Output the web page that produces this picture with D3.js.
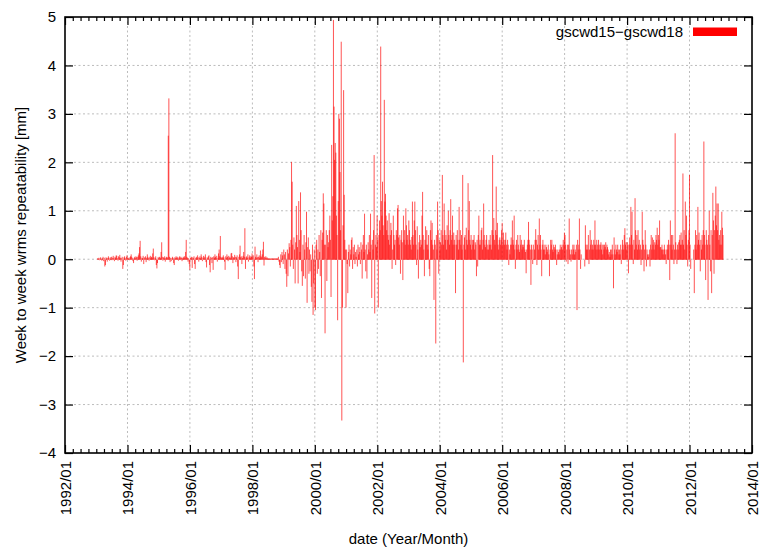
<!DOCTYPE html>
<html>
<head>
<meta charset="utf-8">
<script src="https://cdn.jsdelivr.net/npm/d3@7"></script>
<style>
  html, body { margin: 0; padding: 0; background: #fff; }
  svg { display: block; font-family: "Liberation Sans", Arial, Helvetica, sans-serif; }
</style>
</head>
<body>
<svg id="chart" width="759" height="548"></svg>
<script>
// Weekly difference of wrms repeatability between two solutions (mm)
const seriesName = "gscwd15\u2212gscwd18";
const firstWeek = "1993-01-17";
const wrmsDiff = [
  // 1993
  0.02,0.01,0.03,-0.02,0.02,0.04,0.01,-0.03,0.02,0.05,-0.04,0.03,-0.15,-0.12,0.04,0.02,-0.05,0.03,0.06,0.02,
  -0.03,0.04,0.01,0.05,-0.02,0.03,0.07,0.02,-0.04,0.05,0.03,0.08,0.07,0.02,-0.03,0.06,0.04,0.09,0.03,-0.05,
  0.02,0.05,-0.2,-0.12,0.04,0.06,0.02,-0.03,0.05,0.08,0.03,0.01,
  // 1994
  0.03,-0.02,0.04,0.06,0.1,0.05,0.02,-0.04,-0.08,0.03,0.05,0.02,0.06,0.04,-0.03,0.05,0.08,0.12,0.25,0.38,
  0.06,-0.05,0.03,0.02,0.07,-0.1,0.04,0.02,0.06,-0.06,0.03,0.1,0.05,0.02,-0.03,0.04,0.07,0.02,0.05,0.03,
  0.12,0.22,0.04,-0.02,0.03,0.06,-0.12,-0.19,-0.08,0.04,0.02,0.05,
  // 1995
  0.04,0.02,0.15,0.35,0.05,-0.03,0.04,0.02,0.06,-0.05,0.03,0.05,0.02,0.04,2.55,3.32,0.05,-0.06,0.03,-0.04,
  0.02,0.05,0.03,-0.08,-0.12,0.04,0.02,0.06,0.03,0.05,0.02,-0.03,0.04,0.06,0.02,0.05,0.03,-0.04,0.02,0.05,
  0.03,0.06,0.02,0.15,0.4,0.05,0.03,-0.05,0.02,-0.1,-0.22,0.03,
  // 1996
  0.03,0.05,-0.18,0.04,0.02,0.06,-0.1,-0.2,0.03,0.05,0.02,0.08,0.04,-0.05,0.03,0.06,0.02,0.1,0.05,-0.04,
  0.03,0.07,0.02,0.05,0.1,-0.06,-0.17,0.04,0.02,0.06,0.08,-0.12,-0.27,0.05,0.03,-0.08,0.04,-0.22,0.06,0.03,
  0.1,0.05,0.02,0.07,-0.05,0.03,0.12,0.2,0.06,0.48,0.04,0.02,
  // 1997
  0.05,0.03,0.08,0.04,-0.05,-0.22,0.06,0.03,0.1,0.05,-0.04,0.07,0.03,0.05,0.02,0.12,0.13,0.06,-0.08,0.04,
  0.03,0.09,0.05,-0.06,0.04,0.08,-0.15,-0.41,0.05,0.1,0.28,0.04,0.06,-0.1,0.03,0.07,0.15,0.05,0.64,-0.2,
  0.04,0.06,0.03,0.1,-0.05,0.04,0.08,0.03,0.06,0.05,0.12,0.04,
  // 1998
  0.08,-0.15,-0.41,0.26,0.05,0.03,0.1,0.04,-0.06,0.05,0.08,0.03,0.18,0.06,0.04,0.1,0.2,0.36,-0.13,0.05,
  0.03,0.06,0.02,0.04,0.02,0.01,0.02,0.01,0.02,0.01,0.01,0.02,0.01,0.02,0.01,0.01,0.02,0.01,0.02,0.01,
  0.02,0.01,0.05,-0.05,-0.12,-0.18,0.1,-0.06,0.15,0.08,-0.1,0.2,
  // 1999
  0.1,-0.2,0.15,-0.3,-0.57,0.2,-0.35,0.12,0.33,0.25,-0.15,0.4,2.01,1.6,0.3,-0.2,0.45,0.2,-0.5,0.35,
  1.1,0.5,0.25,-0.5,1.2,0.4,0.15,1.38,0.6,-0.25,-0.55,0.3,-0.35,0.5,0.2,-0.4,0.35,0.98,-0.9,0.25,
  0.45,-0.3,0.2,-0.25,0.1,-0.57,-0.88,0.3,-1.15,-0.5,0.2,-1.0,
  // 2000
  -1.05,0.3,0.4,-0.3,0.2,-0.2,0.5,0.15,-0.35,0.6,-0.8,0.4,0.55,1.36,1.15,0.3,-1.53,0.3,0.6,-0.45,
  0.5,0.25,0.35,0.6,0.9,0.4,-0.78,2.36,0.8,1.3,4.94,3.15,2.05,2.4,2.2,0.9,0.5,-1.26,1.2,3.0,
  2.9,1.8,0.6,4.49,-3.33,-1.0,0.7,3.49,1.33,0.4,0.2,-1.0,
  // 2001
  0.2,-0.1,-0.7,0.15,0.3,-0.15,0.2,0.1,0.4,0.45,-0.2,0.25,0.1,0.3,-0.1,0.15,0.05,0.2,-0.15,0.3,
  0.1,0.25,0.15,-0.1,0.35,0.2,-0.4,0.3,0.5,0.15,0.94,0.2,-0.25,0.3,-0.4,0.1,0.35,0.2,0.5,0.15,
  0.94,0.3,-0.8,0.4,0.2,0.6,2.15,-1.12,0.3,0.5,0.25,0.9,0.4,
  // 2002
  -1.0,0.5,0.8,0.6,4.39,1.2,0.9,1.6,0.7,0.5,3.29,1.19,1.35,0.9,0.6,0.8,0.5,0.4,0.95,0.3,
  0.5,0.75,0.6,-0.2,0.2,0.9,0.5,0.3,0.4,-0.12,0.6,0.5,1.05,1.12,0.45,0.3,0.5,-0.3,0.4,0.6,
  0.35,-0.43,0.9,0.4,0.6,0.3,1.05,0.7,0.4,0.5,0.3,0.8,0.6,0.4,
  // 2003
  0.3,0.2,0.46,1.19,0.5,0.3,0.8,1.19,0.6,0.3,-0.12,0.68,0.2,-0.4,0.35,0.5,0.25,0.4,0.3,0.9,
  1.39,0.5,0.2,-0.35,0.4,0.68,0.3,0.6,0.3,0.2,0.5,-0.2,-0.35,0.6,0.8,0.4,0.75,0.3,0.2,-0.84,
  0.4,0.3,-1.74,0.5,0.2,1.19,0.6,-0.3,0.4,0.2,0.35,0.6,
  // 2004
  0.3,1.74,0.5,0.3,1.15,0.6,0.4,0.5,0.2,0.7,0.4,1.0,0.5,0.3,0.6,1.24,0.4,0.5,0.9,0.3,
  0.55,0.4,0.3,-0.7,0.5,0.3,0.6,0.4,0.2,1.08,0.4,0.6,0.3,0.5,0.2,1.74,-2.13,0.3,0.45,0.5,
  0.2,0.65,0.4,0.3,1.57,0.6,1.2,0.4,0.3,0.5,0.2,0.4,
  // 2005
  0.3,0.4,0.5,0.2,0.35,0.3,-0.35,0.4,-0.15,0.5,0.9,0.3,0.4,0.3,0.6,0.65,0.2,0.4,1.15,0.5,
  0.3,0.25,0.4,0.5,0.2,0.3,0.2,0.4,0.3,0.5,0.3,0.2,0.6,2.15,0.5,0.85,0.4,0.3,0.6,1.5,
  0.5,0.75,0.3,0.2,0.4,0.45,0.3,0.4,0.6,0.75,0.3,0.55,0.4,
  // 2006
  0.3,0.4,0.55,0.3,0.2,0.4,0.3,-0.12,0.2,0.1,0.3,0.45,0.3,0.8,0.4,0.3,0.9,0.2,-0.2,0.3,
  0.4,0.2,0.5,0.3,0.2,0.15,0.5,0.3,0.4,0.2,0.3,0.25,0.3,0.4,0.2,0.15,-0.29,0.2,0.3,0.4,
  0.77,0.4,0.3,0.2,-0.53,0.3,0.2,-0.1,0.3,0.0,0.2,0.4,
  // 2007
  0.62,0.4,-0.12,0.3,0.5,0.2,0.84,0.3,0.5,0.2,-0.35,0.3,0.4,0.2,0.3,0.2,0.1,0.3,0.25,0.15,
  0.2,0.3,0.1,-0.35,0.2,0.4,0.3,0.4,0.2,0.15,0.3,0.25,0.2,0.3,0.2,-0.12,0.1,0.2,0.15,0.1,
  0.2,0.3,0.2,0.25,0.3,0.2,0.4,0.3,0.55,0.5,0.3,-0.05,0.2,
  // 2008
  0.3,-0.1,0.3,0.84,0.2,0.1,-0.05,0.2,0.1,0.3,0.2,0.3,0.1,0.2,0.15,0.3,-1.05,0.4,0.2,0.3,
  0.84,0.2,-0.2,0.1,null,null,null,null,null,-0.15,0.7,0.3,0.2,0.3,0.2,0.5,-0.1,0.2,0.6,0.3,
  0.4,0.2,0.3,0.2,0.4,0.3,0.8,0.3,0.2,0.4,0.3,0.2,
  // 2009
  0.4,0.3,0.2,0.3,0.35,0.2,0.3,0.1,0.3,0.2,0.3,0.25,0.35,0.2,0.3,0.25,0.2,0.1,0.15,0.05,
  0.2,0.1,0.2,0.3,0.1,-0.6,0.45,0.2,0.1,0.3,0.2,0.15,0.3,0.2,0.1,0.2,0.1,0.3,-0.1,0.2,
  0.4,0.3,0.2,0.5,0.64,0.3,0.35,0.2,0.35,0.3,-0.29,0.3,
  // 2010
  0.45,0.3,1.08,0.5,0.98,0.3,-0.1,0.4,0.2,1.26,0.6,0.3,0.5,0.2,0.6,0.3,0.4,0.2,0.3,-0.12,
  0.2,0.98,0.4,0.3,-0.25,0.2,0.6,0.3,-0.15,0.2,0.1,0.05,0.1,0.2,-0.15,0.3,0.5,0.2,0.45,0.3,
  0.4,0.2,0.35,0.3,0.5,0.4,0.65,0.3,0.5,0.4,0.8,0.25,
  // 2011
  0.25,0.2,0.3,0.2,0.1,0.2,0.3,0.2,0.1,-0.1,0.2,0.3,0.2,0.4,0.3,-0.43,0.8,0.3,0.5,0.2,
  0.5,0.3,-0.1,0.2,2.6,0.35,0.2,-0.1,0.3,0.2,0.35,0.4,0.5,0.3,0.55,0.3,0.4,1.77,0.3,0.6,
  0.2,1.19,0.5,0.9,0.3,-0.15,0.4,0.6,1.74,0.3,-0.2,null,null,
  // 2012
  null,null,0.2,-0.7,0.3,0.6,0.2,0.5,0.3,1.08,0.4,0.55,0.3,-0.25,0.4,0.2,0.5,0.3,0.6,2.43,
  0.5,0.3,-0.43,0.6,0.4,0.3,-0.84,0.5,1.0,0.3,-0.25,0.6,-0.7,0.5,1.37,0.8,-0.3,0.6,0.9,1.5,
  0.7,1.15,0.6,1.15,0.4,0.5,0.3,0.6,0.3,0.98,0.65,0.5
];
const yTickValues = [-4, -3, -2, -1, 0, 1, 2, 3, 4, 5];
const xTickYears = [1992, 1994, 1996, 1998, 2000, 2002, 2004, 2006, 2008, 2010, 2012, 2014];
const xTitle = "date (Year/Month)";
const yTitle = "Week to week wrms repeatability [mm]";

const margin = { top: 17, right: 7, bottom: 95, left: 65 };
const W = 759, H = 548;
const iw = W - margin.left - margin.right;
const ih = H - margin.top - margin.bottom;

const svg = d3.select("#chart");
const g = svg.append("g").attr("transform", `translate(${margin.left},${margin.top})`);

const x = d3.scaleTime()
  .domain([new Date(xTickYears[0], 0, 1), new Date(xTickYears[xTickYears.length - 1], 0, 1)])
  .range([0, iw]);
const y = d3.scaleLinear().domain([-4, 5]).range([ih, 0]);

const majorDates = xTickYears.map(yr => new Date(yr, 0, 1));
const minorDates = d3.timeMonth.every(3).range(x.domain()[0], x.domain()[1])
  .filter(d => d.getMonth() !== 0 || d.getFullYear() % 2 !== 0);

const minus = v => (v < 0 ? "\u2212" + Math.abs(v) : String(v));

// dotted grid
const grid = g.append("g").attr("stroke", "#bcbcbc").attr("stroke-width", 1).attr("stroke-dasharray", "2,2.5");
grid.selectAll("line.gx").data(majorDates.slice(1, -1)).join("line")
  .attr("x1", d => x(d)).attr("x2", d => x(d)).attr("y1", 0).attr("y2", ih);
grid.selectAll("line.gy").data(yTickValues.slice(1, -1)).join("line")
  .attr("x1", 0).attr("x2", iw).attr("y1", d => y(d)).attr("y2", d => y(d));

// impulses
const start = d3.timeParse("%Y-%m-%d")(firstWeek);
const points = wrmsDiff
  .map((v, i) => ({ date: d3.timeDay.offset(start, 7 * i), v }))
  .filter(d => d.v !== null);
g.append("g").selectAll("line").data(points).join("line")
  .attr("x1", d => x(d.date)).attr("x2", d => x(d.date))
  .attr("y1", y(0) + 0.5).attr("y2", d => y(d.v))
  .attr("stroke", "#ff0000").attr("stroke-width", 0.85).attr("stroke-opacity", 0.8);

// axes with inward ticks
function styleAxis(sel) {
  sel.select(".domain").remove();
  sel.selectAll(".tick line").attr("stroke", "#000").attr("stroke-width", 1.2);
}
const bottom = g.append("g").attr("transform", `translate(0,${ih})`)
  .call(d3.axisBottom(x).tickValues(majorDates).tickSize(-8).tickFormat(d3.timeFormat("%Y/%m")));
styleAxis(bottom);
bottom.selectAll(".tick text")
  .attr("transform", "translate(5.5,8) rotate(-90)")
  .attr("x", 0).attr("y", 0).attr("dy", 0)
  .attr("text-anchor", "end")
  .attr("font-size", 15).attr("font-family", null).attr("fill", "#000");

g.append("g").attr("transform", `translate(0,${ih})`)
  .call(d3.axisBottom(x).tickValues(minorDates).tickSize(-4).tickFormat(""))
  .call(styleAxis);
g.append("g")
  .call(d3.axisTop(x).tickValues(majorDates).tickSize(-8).tickFormat(""))
  .call(styleAxis);
g.append("g")
  .call(d3.axisTop(x).tickValues(minorDates).tickSize(-4).tickFormat(""))
  .call(styleAxis);

const left = g.append("g")
  .call(d3.axisLeft(y).tickValues(yTickValues).tickSize(-8).tickPadding(9).tickFormat(minus));
styleAxis(left);
left.selectAll(".tick text").attr("font-size", 15).attr("font-family", null).attr("fill", "#000");

g.append("g").attr("transform", `translate(${iw},0)`)
  .call(d3.axisRight(y).tickValues(yTickValues).tickSize(-8).tickFormat(""))
  .call(styleAxis);

// frame
g.append("rect").attr("x", 0).attr("y", 0).attr("width", iw).attr("height", ih)
  .attr("fill", "none").attr("stroke", "#000").attr("stroke-width", 1.6);

// titles
svg.append("text")
  .attr("x", margin.left + iw / 2).attr("y", 544)
  .attr("text-anchor", "middle").attr("font-size", 15).attr("fill", "#000")
  .text(xTitle);
svg.append("text")
  .attr("transform", `translate(26,${margin.top + ih / 2}) rotate(-90)`)
  .attr("text-anchor", "middle").attr("font-size", 15).attr("fill", "#000")
  .text(yTitle);

// legend
const legend = svg.append("g");
legend.append("text")
  .attr("x", 683).attr("y", 37).attr("text-anchor", "end")
  .attr("font-size", 15).attr("fill", "#000").text(seriesName);
legend.append("rect")
  .attr("x", 693).attr("y", 27.5).attr("width", 44).attr("height", 8.5)
  .attr("fill", "#ff0000");
</script>
</body>
</html>
